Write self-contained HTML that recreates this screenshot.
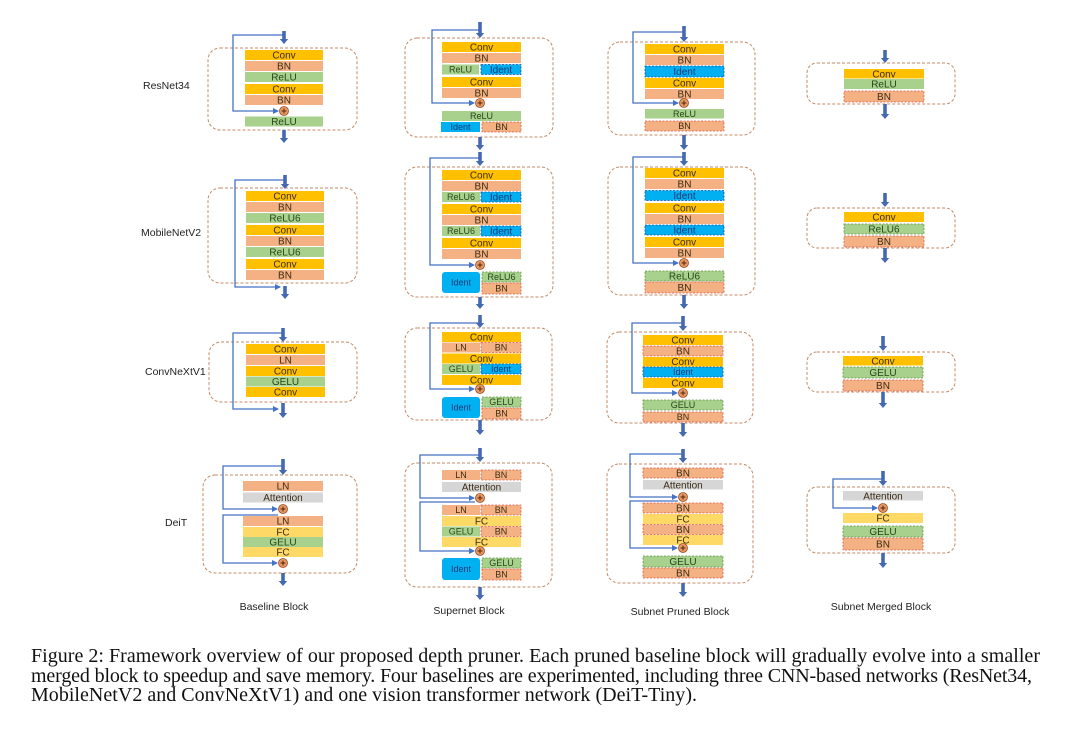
<!DOCTYPE html>
<html><head><meta charset="utf-8"><style>
html,body{margin:0;padding:0;background:#fff}
svg{display:block}
text{font-family:"Liberation Sans",sans-serif}
.t{font-size:10px;text-anchor:middle;fill:#3a2c14}
.tg{font-size:10px;text-anchor:middle;fill:#25461a}
.ti{font-size:10px;text-anchor:middle;fill:#173a78}
.s{font-size:9px}
.c{fill:#FFC000}.b{fill:#F4B183}.g{fill:#A9D18E}.i{fill:#00B0F0}.a{fill:#D6D6D6}.f{fill:#FFD966}
.db{stroke:#DE5A48;stroke-dasharray:2 1.5;stroke-width:.8}
.dg{stroke:#5E9440;stroke-dasharray:2 1.5;stroke-width:.8}
.di{stroke:#1E4F9C;stroke-dasharray:2 1.5;stroke-width:.8}
.box{fill:none;stroke:#C48A64;stroke-dasharray:3 2;stroke-width:1}
.sk{fill:none;stroke:#4472C4;stroke-width:1.3;marker-end:url(#m)}
.ar{fill:#4469B0}
.pc{fill:#E59A66;stroke:#9A4A20;stroke-width:.8}
.pl{stroke:#5a2308;stroke-width:1}
.lab{font-size:10.5px;fill:#222}
.cap{font-family:"Liberation Serif",serif;font-size:20px;fill:#111}
</style></head><body>
<svg width="1080" height="729" viewBox="0 0 1080 729" xmlns="http://www.w3.org/2000/svg">
<defs>
<marker id="m" markerWidth="6" markerHeight="6" refX="5" refY="3" orient="auto" markerUnits="userSpaceOnUse"><path d="M0,0 L6,3 L0,6z" fill="#4472C4"/></marker>
</defs>

<!-- row labels -->
<text class="lab" x="143" y="89">ResNet34</text>
<text class="lab" x="141" y="236">MobileNetV2</text>
<text class="lab" x="145" y="375">ConvNeXtV1</text>
<text class="lab" x="165" y="526">DeiT</text>

<!-- boxes -->
<rect class="box" x="208" y="48" width="149" height="82" rx="12"/>
<rect class="box" x="208" y="188" width="149" height="95" rx="12"/>
<rect class="box" x="209" y="342" width="148" height="60" rx="12"/>
<rect class="box" x="203" y="475" width="154" height="98" rx="12"/>
<rect class="box" x="405" y="38" width="148" height="99" rx="12"/>
<rect class="box" x="405" y="167" width="148" height="130" rx="12"/>
<rect class="box" x="405" y="328" width="147" height="92" rx="12"/>
<rect class="box" x="405" y="463" width="147" height="124" rx="12"/>
<rect class="box" x="608" y="42" width="147" height="93" rx="12"/>
<rect class="box" x="608" y="167" width="147" height="128" rx="12"/>
<rect class="box" x="607" y="332" width="146" height="91" rx="12"/>
<rect class="box" x="607" y="464" width="146" height="119" rx="12"/>
<rect class="box" x="807" y="63" width="148" height="41" rx="10"/>
<rect class="box" x="807" y="208" width="148" height="40" rx="10"/>
<rect class="box" x="807" y="352" width="148" height="40" rx="10"/>
<rect class="box" x="807" y="487" width="148" height="66" rx="10"/>

<!-- skip connections -->
<path class="sk" d="M284,35 H233 V111 H278"/>
<path class="sk" d="M285,180 H235 V287 H280"/>
<path class="sk" d="M283,333 H233 V409 H278"/>
<path class="sk" d="M283,466 H223 V509 H277"/>
<path class="sk" d="M278,515 H223 V563 H277"/>
<path class="sk" d="M480,30 H432 V103 H474"/>
<path class="sk" d="M480,158 H430 V265 H474"/>
<path class="sk" d="M480,323 H430 V389 H474"/>
<path class="sk" d="M480,455 H420 V498 H474"/>
<path class="sk" d="M475,502 H420 V551 H474"/>
<path class="sk" d="M684,32 H633 V103 H678"/>
<path class="sk" d="M684,157 H633 V263 H678"/>
<path class="sk" d="M683,323 H632 V393 H677"/>
<path class="sk" d="M683,454 H630 V497 H677"/>
<path class="sk" d="M678,501 H630 V548 H677"/>
<path class="sk" d="M883,479 H833 V508 H877"/>

<!-- thick arrows -->
<g class="ar">
<path d="M282.2,31 h3.6 v8 h2.4 l-4.2,5 l-4.2,-5 h2.4z"/>
<path d="M282.2,130 h3.6 v8 h2.4 l-4.2,5 l-4.2,-5 h2.4z"/>
<path d="M283.2,175 h3.6 v9 h2.4 l-4.2,5 l-4.2,-5 h2.4z"/>
<path d="M283.2,286 h3.6 v8 h2.4 l-4.2,5 l-4.2,-5 h2.4z"/>
<path d="M281.2,328 h3.6 v9 h2.4 l-4.2,5 l-4.2,-5 h2.4z"/>
<path d="M281.2,403 h3.6 v10 h2.4 l-4.2,5 l-4.2,-5 h2.4z"/>
<path d="M281.2,459 h3.6 v11 h2.4 l-4.2,5 l-4.2,-5 h2.4z"/>
<path d="M281.2,573 h3.6 v8 h2.4 l-4.2,5 l-4.2,-5 h2.4z"/>

<path d="M478.2,22 h3.6 v11 h2.4 l-4.2,5 l-4.2,-5 h2.4z"/>
<path d="M478.2,137 h3.6 v8 h2.4 l-4.2,5 l-4.2,-5 h2.4z"/>
<path d="M478.2,152 h3.6 v9 h2.4 l-4.2,5 l-4.2,-5 h2.4z"/>
<path d="M478.2,297 h3.6 v7 h2.4 l-4.2,5 l-4.2,-5 h2.4z"/>
<path d="M478.2,315 h3.6 v8 h2.4 l-4.2,5 l-4.2,-5 h2.4z"/>
<path d="M478.2,420 h3.6 v10 h2.4 l-4.2,5 l-4.2,-5 h2.4z"/>
<path d="M478.2,448 h3.6 v9 h2.4 l-4.2,5 l-4.2,-5 h2.4z"/>
<path d="M478.2,587 h3.6 v8 h2.4 l-4.2,5 l-4.2,-5 h2.4z"/>

<path d="M682.2,26 h3.6 v11 h2.4 l-4.2,5 l-4.2,-5 h2.4z"/>
<path d="M682.2,135 h3.6 v10 h2.4 l-4.2,5 l-4.2,-5 h2.4z"/>
<path d="M682.2,152 h3.6 v9 h2.4 l-4.2,5 l-4.2,-5 h2.4z"/>
<path d="M682.2,295 h3.6 v9 h2.4 l-4.2,5 l-4.2,-5 h2.4z"/>
<path d="M681.2,316 h3.6 v10 h2.4 l-4.2,5 l-4.2,-5 h2.4z"/>
<path d="M681.2,423 h3.6 v9 h2.4 l-4.2,5 l-4.2,-5 h2.4z"/>
<path d="M681.2,449 h3.6 v9 h2.4 l-4.2,5 l-4.2,-5 h2.4z"/>
<path d="M681.2,583 h3.6 v9 h2.4 l-4.2,5 l-4.2,-5 h2.4z"/>

<path d="M883.2,50 h3.6 v8 h2.4 l-4.2,5 l-4.2,-5 h2.4z"/>
<path d="M883.2,104 h3.6 v10 h2.4 l-4.2,5 l-4.2,-5 h2.4z"/>
<path d="M883.2,193 h3.6 v9 h2.4 l-4.2,5 l-4.2,-5 h2.4z"/>
<path d="M883.2,248 h3.6 v10 h2.4 l-4.2,5 l-4.2,-5 h2.4z"/>
<path d="M881.2,336 h3.6 v10 h2.4 l-4.2,5 l-4.2,-5 h2.4z"/>
<path d="M881.2,392 h3.6 v11 h2.4 l-4.2,5 l-4.2,-5 h2.4z"/>
<path d="M881.2,471 h3.6 v10 h2.4 l-4.2,5 l-4.2,-5 h2.4z"/>
<path d="M881.2,553 h3.6 v10 h2.4 l-4.2,5 l-4.2,-5 h2.4z"/>
</g>

<!-- ===== Column 1: Baseline ===== -->
<!-- ResNet34 -->
<rect class="c" x="245" y="50" width="78" height="10"/><text class="t" x="284" y="58.5">Conv</text>
<rect class="b" x="245" y="61" width="78" height="10"/><text class="t" x="284" y="69.5">BN</text>
<rect class="g" x="245" y="72" width="78" height="10"/><text class="tg" x="284" y="80.5">ReLU</text>
<rect class="c" x="245" y="84" width="78" height="10"/><text class="t" x="284" y="92.5">Conv</text>
<rect class="b" x="245" y="95" width="78" height="10"/><text class="t" x="284" y="103.5">BN</text>
<rect class="g" x="245" y="116.5" width="78" height="10"/><text class="tg" x="284" y="125">ReLU</text>
<!-- MobileNetV2 -->
<rect class="c" x="246" y="191" width="78" height="10"/><text class="t" x="285" y="199.5">Conv</text>
<rect class="b" x="246" y="202" width="78" height="10"/><text class="t" x="285" y="210.5">BN</text>
<rect class="g" x="246" y="213" width="78" height="10"/><text class="tg" x="285" y="221.5">ReLU6</text>
<rect class="c" x="246" y="225" width="78" height="10"/><text class="t" x="285" y="233.5">Conv</text>
<rect class="b" x="246" y="236" width="78" height="10"/><text class="t" x="285" y="244.5">BN</text>
<rect class="g" x="246" y="247" width="78" height="10"/><text class="tg" x="285" y="255.5">ReLU6</text>
<rect class="c" x="246" y="259" width="78" height="10"/><text class="t" x="285" y="267.5">Conv</text>
<rect class="b" x="246" y="270" width="78" height="10"/><text class="t" x="285" y="278.5">BN</text>
<!-- ConvNeXtV1 -->
<rect class="c" x="246" y="344" width="79" height="10"/><text class="t" x="285.5" y="352.5">Conv</text>
<rect class="b" x="246" y="355" width="79" height="10"/><text class="t" x="285.5" y="363.5">LN</text>
<rect class="c" x="246" y="366" width="79" height="10"/><text class="t" x="285.5" y="374.5">Conv</text>
<rect class="g" x="246" y="376.5" width="79" height="10"/><text class="tg" x="285.5" y="385">GELU</text>
<rect class="c" x="246" y="387" width="79" height="10"/><text class="t" x="285.5" y="395.5">Conv</text>
<!-- DeiT -->
<rect class="b" x="243" y="481" width="80" height="10"/><text class="t" x="283" y="489.5">LN</text>
<rect class="a" x="243" y="492.5" width="80" height="10"/><text class="t" x="283" y="501">Attention</text>
<rect class="b" x="243" y="516" width="80" height="10"/><text class="t" x="283" y="524.5">LN</text>
<rect class="f" x="243" y="527" width="80" height="10"/><text class="t" x="283" y="535.5">FC</text>
<rect class="g" x="243" y="537" width="80" height="10"/><text class="tg" x="283" y="545.5">GELU</text>
<rect class="f" x="243" y="547" width="80" height="10"/><text class="t" x="283" y="555.5">FC</text>

<!-- ===== Column 2: Supernet ===== -->
<!-- ResNet -->
<rect class="c" x="442" y="42" width="79" height="10"/><text class="t" x="481.5" y="50.5">Conv</text>
<rect class="b" x="442" y="53" width="79" height="10"/><text class="t" x="481.5" y="61.5">BN</text>
<rect class="g" x="442" y="64.5" width="37" height="10"/><text class="tg s" x="460.5" y="72.5">ReLU</text>
<rect class="i di" x="481" y="64.5" width="40" height="10"/><text class="ti" x="501" y="73">Ident</text>
<rect class="c" x="442" y="77" width="79" height="10"/><text class="t" x="481.5" y="85.5">Conv</text>
<rect class="b" x="442" y="88" width="79" height="10"/><text class="t" x="481.5" y="96.5">BN</text>
<rect class="g" x="442" y="111" width="79" height="10"/><text class="tg s" x="481.5" y="119">ReLU</text>
<rect class="i" x="441" y="122" width="39" height="10"/><text class="ti s" x="460.5" y="130">Ident</text>
<rect class="b db" x="482" y="122" width="39" height="10"/><text class="t s" x="501.5" y="130">BN</text>
<!-- MobileNet -->
<rect class="c" x="442" y="170" width="79" height="10"/><text class="t" x="481.5" y="178.5">Conv</text>
<rect class="b" x="442" y="181" width="79" height="10"/><text class="t" x="481.5" y="189.5">BN</text>
<rect class="g" x="442" y="192" width="38" height="10"/><text class="tg s" x="461" y="200">ReLU6</text>
<rect class="i di" x="481" y="192" width="40" height="10"/><text class="ti" x="501" y="200.5">Ident</text>
<rect class="c" x="442" y="204" width="79" height="10"/><text class="t" x="481.5" y="212.5">Conv</text>
<rect class="b" x="442" y="215" width="79" height="10"/><text class="t" x="481.5" y="223.5">BN</text>
<rect class="g" x="442" y="226" width="38" height="10"/><text class="tg s" x="461" y="234">ReLU6</text>
<rect class="i di" x="481" y="226" width="40" height="10"/><text class="ti" x="501" y="234.5">Ident</text>
<rect class="c" x="442" y="238" width="79" height="10"/><text class="t" x="481.5" y="246.5">Conv</text>
<rect class="b" x="442" y="249" width="79" height="10"/><text class="t" x="481.5" y="257.5">BN</text>
<rect class="i" x="442" y="272" width="38" height="21" rx="3"/><text class="ti s" x="461" y="285.5">Ident</text>
<rect class="g dg" x="482" y="272" width="39" height="10"/><text class="tg s" x="501.5" y="280">ReLU6</text>
<rect class="b db" x="482" y="283" width="39" height="11"/><text class="t s" x="501.5" y="291.5">BN</text>
<!-- ConvNeXt -->
<rect class="c" x="442" y="332" width="79" height="10"/><text class="t" x="481.5" y="340.5">Conv</text>
<rect class="b" x="442" y="342.5" width="38" height="10"/><text class="t s" x="461" y="350.5">LN</text>
<rect class="b db" x="481" y="342.5" width="40" height="10"/><text class="t s" x="501" y="350.5">BN</text>
<rect class="c" x="442" y="353.5" width="79" height="10"/><text class="t" x="481.5" y="362">Conv</text>
<rect class="g" x="442" y="364" width="38" height="10"/><text class="tg s" x="461" y="372">GELU</text>
<rect class="i di" x="481" y="364" width="40" height="10"/><text class="ti s" x="501" y="372">Ident</text>
<rect class="c" x="442" y="375" width="79" height="10"/><text class="t" x="481.5" y="383.5">Conv</text>
<rect class="i" x="442" y="397" width="38" height="21" rx="3"/><text class="ti s" x="461" y="410.5">Ident</text>
<rect class="g dg" x="482" y="397" width="39" height="10"/><text class="tg s" x="501.5" y="405">GELU</text>
<rect class="b db" x="482" y="408" width="39" height="11"/><text class="t s" x="501.5" y="416.5">BN</text>
<!-- DeiT -->
<rect class="b" x="442" y="470" width="38" height="10"/><text class="t s" x="461" y="478">LN</text>
<rect class="b db" x="481" y="470" width="40" height="10"/><text class="t s" x="501" y="478">BN</text>
<rect class="a" x="442" y="482" width="79" height="10"/><text class="t" x="481.5" y="490.5">Attention</text>
<rect class="b" x="442" y="505" width="38" height="10"/><text class="t s" x="461" y="513">LN</text>
<rect class="b db" x="481" y="505" width="40" height="10"/><text class="t s" x="501" y="513">BN</text>
<rect class="f" x="442" y="516" width="79" height="10"/><text class="t" x="481.5" y="524.5">FC</text>
<rect class="g" x="442" y="526.5" width="38" height="10"/><text class="tg s" x="461" y="534.5">GELU</text>
<rect class="b db" x="481" y="526.5" width="40" height="10"/><text class="t s" x="501" y="534.5">BN</text>
<rect class="f" x="442" y="537" width="79" height="10"/><text class="t" x="481.5" y="545.5">FC</text>
<rect class="i" x="442" y="558" width="38" height="22" rx="3"/><text class="ti s" x="461" y="572">Ident</text>
<rect class="g dg" x="482" y="558" width="39" height="10"/><text class="tg s" x="501.5" y="566">GELU</text>
<rect class="b db" x="482" y="569" width="39" height="11"/><text class="t s" x="501.5" y="577.5">BN</text>

<!-- ===== Column 3: Subnet Pruned ===== -->
<!-- ResNet -->
<rect class="c" x="645" y="44" width="79" height="10"/><text class="t" x="684.5" y="52.5">Conv</text>
<rect class="b" x="645" y="55" width="79" height="10"/><text class="t" x="684.5" y="63.5">BN</text>
<rect class="i di" x="645" y="66" width="79" height="11"/><text class="ti" x="684.5" y="75">Ident</text>
<rect class="c" x="645" y="78" width="79" height="10"/><text class="t" x="684.5" y="86.5">Conv</text>
<rect class="b" x="645" y="89" width="79" height="10"/><text class="t" x="684.5" y="97.5">BN</text>
<rect class="g" x="645" y="109" width="79" height="9.5"/><text class="tg s" x="684.5" y="117">ReLU</text>
<rect class="b db" x="645" y="121" width="79" height="10"/><text class="t s" x="684.5" y="129">BN</text>
<!-- MobileNet -->
<rect class="c" x="645" y="168" width="79" height="10"/><text class="t" x="684.5" y="176.5">Conv</text>
<rect class="b" x="645" y="179" width="79" height="10"/><text class="t" x="684.5" y="187.5">BN</text>
<rect class="i di" x="645" y="190.5" width="79" height="10"/><text class="ti" x="684.5" y="199">Ident</text>
<rect class="c" x="645" y="203" width="79" height="10"/><text class="t" x="684.5" y="211.5">Conv</text>
<rect class="b" x="645" y="214" width="79" height="10"/><text class="t" x="684.5" y="222.5">BN</text>
<rect class="i di" x="645" y="225" width="79" height="10"/><text class="ti" x="684.5" y="233.5">Ident</text>
<rect class="c" x="645" y="237" width="79" height="10"/><text class="t" x="684.5" y="245.5">Conv</text>
<rect class="b" x="645" y="248" width="79" height="10"/><text class="t" x="684.5" y="256.5">BN</text>
<rect class="g dg" x="645" y="271" width="79" height="10"/><text class="tg" x="684.5" y="279.5">ReLU6</text>
<rect class="b db" x="645" y="282" width="79" height="11"/><text class="t" x="684.5" y="291">BN</text>
<!-- ConvNeXt -->
<rect class="c" x="643" y="335" width="80" height="10"/><text class="t" x="683" y="343.5">Conv</text>
<rect class="b db" x="643" y="346" width="80" height="10"/><text class="t" x="683" y="354.5">BN</text>
<rect class="c" x="643" y="357" width="80" height="9.5"/><text class="t" x="683" y="365">Conv</text>
<rect class="i di" x="643" y="367" width="80" height="10"/><text class="ti s" x="683" y="375">Ident</text>
<rect class="c" x="643" y="378" width="80" height="10"/><text class="t" x="683" y="386.5">Conv</text>
<rect class="g dg" x="643" y="400" width="80" height="10"/><text class="tg s" x="683" y="408">GELU</text>
<rect class="b db" x="643" y="412" width="80" height="10"/><text class="t s" x="683" y="420">BN</text>
<!-- DeiT -->
<rect class="b db" x="643" y="468" width="80" height="10"/><text class="t" x="683" y="476.5">BN</text>
<rect class="a" x="643" y="480" width="80" height="9.5"/><text class="t" x="683" y="488.5">Attention</text>
<rect class="b db" x="643" y="503" width="80" height="10"/><text class="t" x="683" y="511.5">BN</text>
<rect class="f" x="643" y="514" width="80" height="10"/><text class="t" x="683" y="522.5">FC</text>
<rect class="b db" x="643" y="524.5" width="80" height="10"/><text class="t" x="683" y="533">BN</text>
<rect class="f" x="643" y="535" width="80" height="10"/><text class="t" x="683" y="543.5">FC</text>
<rect class="g dg" x="643" y="556" width="80" height="11"/><text class="tg" x="683" y="565">GELU</text>
<rect class="b db" x="643" y="568" width="80" height="10"/><text class="t" x="683" y="576.5">BN</text>

<!-- ===== Column 4: Subnet Merged ===== -->
<rect class="c" x="844" y="69" width="80" height="9.5"/><text class="t" x="884" y="77.5">Conv</text>
<rect class="g" x="844" y="79" width="80" height="10"/><text class="tg" x="884" y="87.5">ReLU</text>
<rect class="b db" x="844" y="91" width="80" height="11"/><text class="t" x="884" y="100">BN</text>

<rect class="c" x="844" y="212" width="80" height="10"/><text class="t" x="884" y="220.5">Conv</text>
<rect class="g dg" x="844" y="224" width="80" height="10"/><text class="tg" x="884" y="232.5">ReLU6</text>
<rect class="b db" x="844" y="236" width="80" height="11"/><text class="t" x="884" y="245">BN</text>

<rect class="c" x="843" y="356" width="80" height="9.5"/><text class="t" x="883" y="364.5">Conv</text>
<rect class="g dg" x="843" y="367" width="80" height="11"/><text class="tg" x="883" y="376">GELU</text>
<rect class="b db" x="843" y="380" width="80" height="11"/><text class="t" x="883" y="389">BN</text>

<rect class="a" x="843" y="491" width="80" height="9.5"/><text class="t" x="883" y="499.5">Attention</text>
<rect class="f" x="843" y="513" width="80" height="10"/><text class="t" x="883" y="521.5">FC</text>
<rect class="g dg" x="843" y="526" width="80" height="11"/><text class="tg" x="883" y="535">GELU</text>
<rect class="b db" x="843" y="538" width="80" height="12"/><text class="t" x="883" y="547.5">BN</text>

<!-- plus circles -->
<g>
<circle class="pc" cx="284" cy="111" r="4.5"/><path class="pl" d="M281.5,111h5M284,108.5v5"/>
<circle class="pc" cx="283" cy="509" r="4.5"/><path class="pl" d="M280.5,509h5M283,506.5v5"/>
<circle class="pc" cx="283" cy="563" r="4.5"/><path class="pl" d="M280.5,563h5M283,560.5v5"/>
<circle class="pc" cx="480" cy="103" r="4.5"/><path class="pl" d="M477.5,103h5M480,100.5v5"/>
<circle class="pc" cx="480" cy="265" r="4.5"/><path class="pl" d="M477.5,265h5M480,262.5v5"/>
<circle class="pc" cx="480" cy="389" r="4.5"/><path class="pl" d="M477.5,389h5M480,386.5v5"/>
<circle class="pc" cx="480" cy="498" r="4.5"/><path class="pl" d="M477.5,498h5M480,495.5v5"/>
<circle class="pc" cx="480" cy="551" r="4.5"/><path class="pl" d="M477.5,551h5M480,548.5v5"/>
<circle class="pc" cx="684" cy="103" r="4.5"/><path class="pl" d="M681.5,103h5M684,100.5v5"/>
<circle class="pc" cx="684" cy="263" r="4.5"/><path class="pl" d="M681.5,263h5M684,260.5v5"/>
<circle class="pc" cx="683" cy="393" r="4.5"/><path class="pl" d="M680.5,393h5M683,390.5v5"/>
<circle class="pc" cx="683" cy="497" r="4.5"/><path class="pl" d="M680.5,497h5M683,494.5v5"/>
<circle class="pc" cx="683" cy="548" r="4.5"/><path class="pl" d="M680.5,548h5M683,545.5v5"/>
<circle class="pc" cx="883" cy="508" r="4.5"/><path class="pl" d="M880.5,508h5M883,505.5v5"/>
</g>

<!-- column labels -->
<text class="lab" x="274" y="610" text-anchor="middle">Baseline  Block</text>
<text class="lab" x="469" y="614" text-anchor="middle">Supernet Block</text>
<text class="lab" x="680" y="615" text-anchor="middle">Subnet Pruned Block</text>
<text class="lab" x="881" y="610" text-anchor="middle">Subnet  Merged Block</text>

<!-- caption -->
<text class="cap" x="31" y="662" textLength="1009" lengthAdjust="spacing">Figure 2: Framework overview of our proposed depth pruner. Each pruned baseline block will gradually evolve into a smaller</text>
<text class="cap" x="31" y="682" textLength="1001" lengthAdjust="spacing">merged block to speedup and save memory. Four baselines are experimented, including three CNN-based networks (ResNet34,</text>
<text class="cap" x="31" y="701" textLength="666" lengthAdjust="spacing">MobileNetV2 and ConvNeXtV1) and one vision transformer network (DeiT-Tiny).</text>
</svg>
</body></html>
